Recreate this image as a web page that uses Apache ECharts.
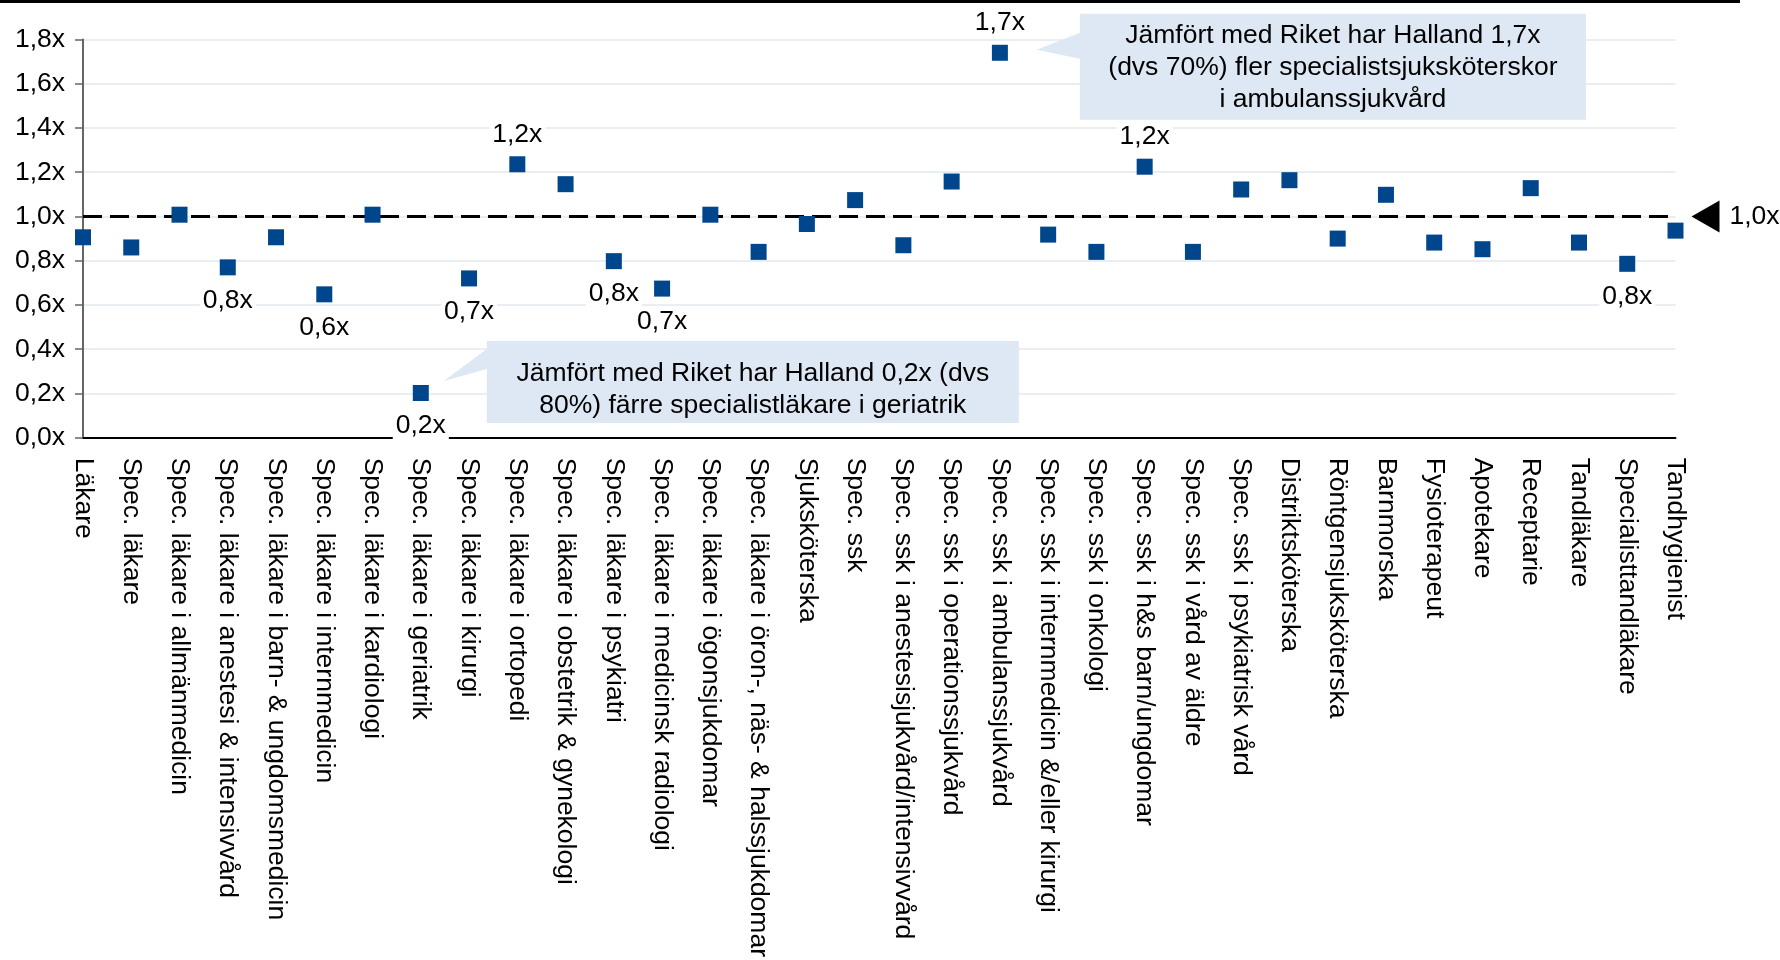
<!DOCTYPE html>
<html><head><meta charset="utf-8">
<script src="https://cdn.jsdelivr.net/npm/echarts/dist/echarts.min.js"></script>
<style>html,body{margin:0;padding:0;background:#fff}#c{width:1780px;height:960px}</style>
</head><body><div id="c"></div>
<script>
const categories = [
  'Läkare','Spec. läkare','Spec. läkare i allmänmedicin','Spec. läkare i anestesi & intensivvård',
  'Spec. läkare i barn- & ungdomsmedicin','Spec. läkare i internmedicin','Spec. läkare i kardiologi',
  'Spec. läkare i geriatrik','Spec. läkare i kirurgi','Spec. läkare i ortopedi',
  'Spec. läkare i obstetrik & gynekologi','Spec. läkare i psykiatri','Spec. läkare i medicinsk radiologi',
  'Spec. läkare i ögonsjukdomar','Spec. läkare i öron-, näs- & halssjukdomar','Sjuksköterska','Spec. ssk',
  'Spec. ssk i anestesisjukvård/intensivvård','Spec. ssk i operationssjukvård','Spec. ssk i ambulanssjukvård',
  'Spec. ssk i internmedicin &/eller kirurgi','Spec. ssk i onkologi','Spec. ssk i h&s barn/ungdomar',
  'Spec. ssk i vård av äldre','Spec. ssk i psykiatrisk vård','Distriktsköterska','Röntgensjuksköterska',
  'Barnmorska','Fysioterapeut','Apotekare','Receptarie','Tandläkare','Specialisttandläkare','Tandhygienist'
];
const values = [
  0.906, 0.86, 1.008, 0.77, 0.906, 0.648, 1.008, 0.202, 0.72, 1.236,
  1.146, 0.798, 0.674, 1.008, 0.84, 0.966, 1.074, 0.87, 1.158, 1.74,
  0.918, 0.84, 1.225, 0.84, 1.122, 1.164, 0.90, 1.098, 0.882, 0.852,
  1.128, 0.882, 0.786, 0.936
];
// which points carry a value label, and where
const labelPositions = [
  null, null, null, 'bottom', null, 'bottom', null, 'bottom', 'bottom', 'top',
  null, 'bottom', 'bottom', null, null, null, null, null, null, 'top',
  null, null, 'top', null, null, null, null, null, null, null,
  null, null, 'bottom', null
];
const referenceValue = 1.0;
const referenceLabel = '1,0x';
const yMin = 0, yMax = 1.8, yInterval = 0.2;
const callouts = [
  { category: 'Spec. läkare i geriatrik',
    text: 'Jämfört med Riket har Halland 0,2x (dvs\n80%) färre specialistläkare i geriatrik',
    box: [66, -52, 598, 30], base: [-44, -24], tip: [23, -12], textPos: [332, -3] },
  { category: 'Spec. ssk i ambulanssjukvård',
    text: 'Jämfört med Riket har Halland 1,7x\n(dvs 70%) fler specialistsjuksköterskor\ni ambulanssjukvård',
    box: [80, -39, 586, 67], base: [-20, 6], tip: [37, -3], textPos: [333, 15] }
];

const FONT = "'Liberation Sans', Arial, sans-serif";
const FS = 26.5;
const fmt = v => v.toFixed(1).replace('.', ',') + 'x';

const chart = echarts.init(document.getElementById('c'), null, {renderer: 'canvas'});
const option = {
  backgroundColor: '#fff',
  animation: false,
  textStyle: {fontFamily: FONT},
  grid: {left: 83, top: 39.5, width: 1592.5, height: 400, containLabel: false},
  xAxis: {
    type: 'category', data: categories, boundaryGap: false,
    axisLine: {lineStyle: {color: '#000', width: 2}},
    axisTick: {show: false},
    splitLine: {show: false},
    axisLabel: {interval: 0, rotate: -90, margin: 20, fontSize: FS, color: '#000', fontFamily: FONT}
  },
  yAxis: {
    type: 'value', min: yMin, max: yMax, interval: yInterval,
    axisLine: {show: true, lineStyle: {color: '#666', width: 2}},
    axisTick: {show: true, length: 8, lineStyle: {color: '#666', width: 1.5}},
    splitLine: {lineStyle: {color: '#e2e8f2', width: 1.5}},
    axisLabel: {formatter: fmt, fontSize: FS, color: '#000', margin: 18, fontFamily: FONT}
  },
  series: [{
    type: 'scatter', symbol: 'rect', symbolSize: 16,
    itemStyle: {color: '#00468c', opacity: 1},
    z: 5,
    label: {fontSize: FS, color: '#000', fontFamily: FONT, backgroundColor: '#fff', padding: [0, 3], lineHeight: 28},
    data: values.map((v, i) => ({
      value: v,
      label: labelPositions[i]
        ? {show: true, position: labelPositions[i], distance: labelPositions[i] === 'top' ? 8 : 11, formatter: fmt(v)}
        : {show: false}
    })),
    markLine: {
      silent: true, symbol: 'none', z: 3,
      lineStyle: {color: '#000', type: [19, 8], width: 3, opacity: 1},
      label: {show: false},
      data: [{yAxis: referenceValue}]
    },
    markPoint: {
      silent: true,
      symbol: 'path://M10,0 L10,10 L0,5 Z', symbolSize: [28, 32], symbolOffset: [30, 0],
      itemStyle: {color: '#000', opacity: 1},
      label: {show: true, position: 'right', distance: 10, formatter: referenceLabel, fontSize: FS, color: '#000', fontFamily: FONT},
      data: [{coord: [categories.length - 1, referenceValue]}]
    }
  }]
};
chart.setOption(option);

const graphics = [{
  type: 'line', shape: {x1: 0, y1: 1.5, x2: 1740, y2: 1.5},
  style: {stroke: '#000', lineWidth: 3}, silent: true
}];
callouts.forEach(c => {
  const idx = categories.indexOf(c.category);
  const p = chart.convertToPixel({seriesIndex: 0}, [idx, values[idx]]);
  const x0 = p[0] + c.box[0], y0 = p[1] + c.box[1], x1 = p[0] + c.box[2], y1 = p[1] + c.box[3];
  graphics.push({
    type: 'polygon', silent: true, z: 1,
    shape: {points: [[x0, y0], [x1, y0], [x1, y1], [x0, y1], [x0, p[1] + c.base[1]], [p[0] + c.tip[0], p[1] + c.tip[1]], [x0, p[1] + c.base[0]]]},
    style: {fill: '#dde8f4'}
  });
  graphics.push({
    type: 'text', silent: true, z: 2,
    style: {text: c.text, x: p[0] + c.textPos[0], y: p[1] + c.textPos[1], align: 'center', verticalAlign: 'middle',
      font: FS + 'px ' + FONT, fill: '#000', lineHeight: 32}
  });
});
chart.setOption({graphic: graphics});
</script></body></html>
